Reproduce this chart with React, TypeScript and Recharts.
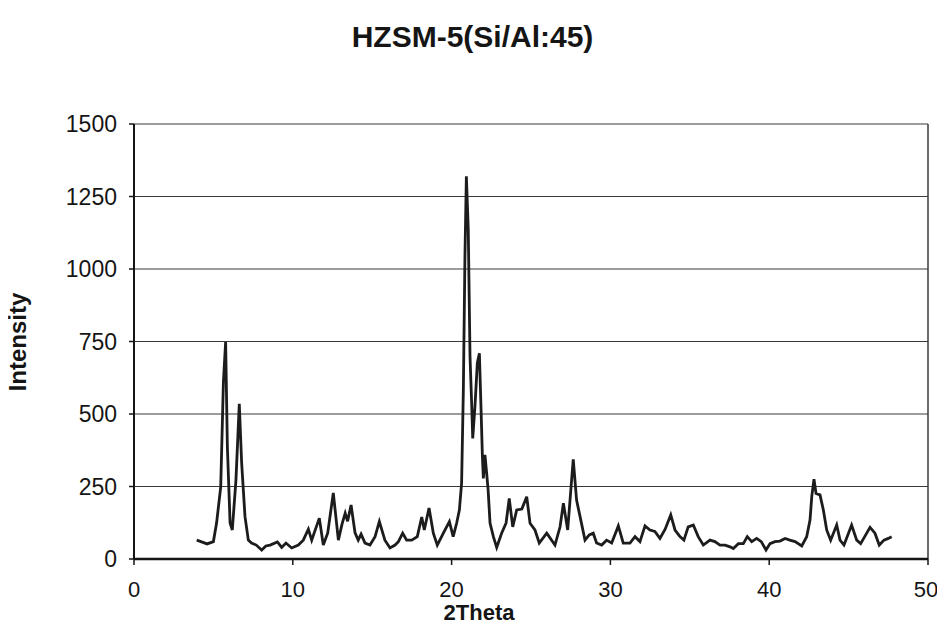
import React from 'react';
import { LineChart, Line, XAxis, YAxis, CartesianGrid, ReferenceLine } from 'recharts';

// XRD pattern of HZSM-5 (Si/Al = 45): diffraction angle (2θ, degrees) vs intensity (counts)
const twoTheta = [
  3.95, 4.3, 4.6, 5.0, 5.2, 5.46, 5.63, 5.77, 5.88, 6.05, 6.19, 6.42, 6.63, 6.78, 6.99, 7.2,
  7.4, 7.7, 8.04, 8.3, 8.57, 9.03, 9.3, 9.57, 9.93, 10.35, 10.66, 10.98, 11.19, 11.67, 11.92,
  12.2, 12.55, 12.87, 13.1, 13.3, 13.45, 13.67, 13.92, 14.12, 14.3, 14.55, 14.86, 15.18, 15.45,
  15.8, 16.12, 16.44, 16.65, 16.92, 17.17, 17.49, 17.84, 18.12, 18.28, 18.58, 18.85, 19.1,
  19.48, 19.86, 20.1, 20.32, 20.49, 20.63, 20.74, 20.84, 20.93, 21.05, 21.16, 21.27, 21.33,
  21.47, 21.62, 21.75, 21.85, 21.94, 22.0, 22.1, 22.2, 22.3, 22.42, 22.63, 22.84, 23.15, 23.43,
  23.63, 23.85, 24.1, 24.42, 24.73, 24.94, 25.25, 25.52, 25.99, 26.51, 26.83, 27.04, 27.31,
  27.66, 27.87, 28.09, 28.4, 28.67, 28.92, 29.13, 29.45, 29.76, 30.08, 30.5, 30.81, 31.23,
  31.55, 31.86, 32.18, 32.49, 32.8, 33.12, 33.44, 33.8, 34.07, 34.38, 34.63, 34.9, 35.22,
  35.53, 35.85, 36.27, 36.58, 36.9, 37.22, 37.53, 37.74, 38.06, 38.37, 38.62, 38.9, 39.21,
  39.5, 39.8, 40.05, 40.36, 40.68, 41.0, 41.3, 41.63, 42.05, 42.36, 42.57, 42.68, 42.82,
  42.95, 43.2, 43.41, 43.62, 43.87, 44.25, 44.46, 44.71, 45.19, 45.51, 45.76, 46.35, 46.66,
  46.93, 47.23, 47.5, 47.71,
];

const intensity = [
  65, 58, 52, 60, 124, 248, 610, 748, 387, 124, 100, 272, 535, 330, 146, 65,
  55, 48, 31, 45, 48, 59, 40, 55, 38, 48, 65, 103, 65, 141, 48,
  90, 228, 65, 120, 158, 130, 186, 90, 65, 86, 55, 48, 77, 129,
  65, 38, 48, 60, 89, 65, 65, 77, 145, 100, 176, 89, 48,
  89, 129, 77, 124, 169, 262, 583, 1042, 1320, 1134, 698, 525, 416,
  525, 676, 709, 525, 353, 278, 359, 300, 238, 124, 77, 40, 89, 124,
  209, 111, 169, 172, 215, 123, 100, 55, 89, 48, 111, 192, 100,
  344, 203, 146, 65, 83, 89, 55, 48, 65, 55, 114, 55, 55,
  77, 60, 114, 100, 95, 71, 102, 152, 100, 77, 65, 111, 117,
  77, 48, 65, 60, 48, 48, 42, 36, 53, 53, 77, 60, 71,
  60, 31, 53, 60, 62, 71, 65, 60, 45, 77, 134, 215, 275,
  226, 221, 169, 100, 65, 117, 65, 48, 117, 65, 53, 109, 89,
  48, 65, 71, 77,
];

const xTicks = [0, 10, 20, 30, 40, 50];
const yTicks = [0, 250, 500, 750, 1000, 1250, 1500];

const chartTitle = 'HZSM-5(Si/Al:45)';
const xTitle = '2Theta';
const yTitle = 'Intensity';

const data = twoTheta.map((t, i) => ({ t, v: intensity[i] }));

const FONT = '"Liberation Sans", Arial, sans-serif';
const INK = '#151515';

export default function App() {
  return (
    <div style={{ position: 'relative', width: 929, height: 617, fontFamily: FONT }}>
      <LineChart
        width={929}
        height={617}
        data={data}
        margin={{ top: 116, right: 9, bottom: 26, left: 6 }}
      >
        <CartesianGrid horizontal vertical={false} stroke="#3a3a3a" strokeWidth={1.2} />
        <XAxis
          dataKey="t"
          type="number"
          domain={[0, 50]}
          ticks={xTicks}
          height={40}
          tickSize={6}
          tickMargin={16}
          stroke={INK}
          axisLine={{ stroke: INK, strokeWidth: 2.5 }}
          tickLine={{ stroke: INK, strokeWidth: 1.5 }}
          tick={{ fill: INK, fontSize: 22, fontFamily: FONT }}
        />
        <YAxis
          type="number"
          domain={[0, 1500]}
          ticks={yTicks}
          width={120}
          tickSize={5}
          tickMargin={12}
          axisLine={{ stroke: INK, strokeWidth: 2 }}
          tickLine={{ stroke: INK, strokeWidth: 1.5 }}
          tick={{ fill: INK, fontSize: 23, fontFamily: FONT }}
        />
        <ReferenceLine x={50} stroke="#3a3a3a" strokeWidth={1.5} />
        <Line
          type="linear"
          dataKey="v"
          stroke="#1c1c1c"
          strokeWidth={2.8}
          dot={false}
          isAnimationActive={false}
        />
      </LineChart>

      <div
        style={{
          position: 'absolute',
          top: 14,
          left: 0,
          width: 929,
          textAlign: 'center',
          fontSize: 30,
          lineHeight: 1,
          fontWeight: 700,
          color: INK,
        }}
      >
        {chartTitle}
      </div>

      <div
        style={{
          position: 'absolute',
          top: 594,
          left: 471,
          transform: 'translateX(-50%)',
          fontSize: 22,
          lineHeight: 1,
          fontWeight: 700,
          color: INK,
          whiteSpace: 'nowrap',
        }}
      >
        {xTitle}
      </div>

      <div
        style={{
          position: 'absolute',
          top: 334,
          left: 10,
          transform: 'translate(-50%, -50%) rotate(-90deg)',
          fontSize: 24,
          lineHeight: 1,
          fontWeight: 700,
          color: INK,
          whiteSpace: 'nowrap',
        }}
      >
        {yTitle}
      </div>
    </div>
  );
}
